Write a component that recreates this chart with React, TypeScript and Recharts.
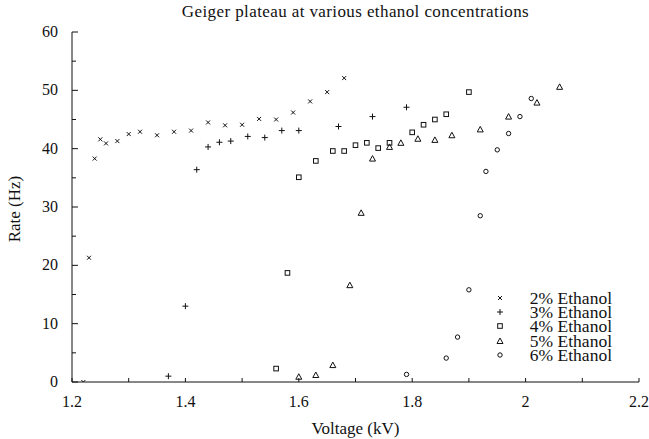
import { ScatterChart, Scatter, XAxis, YAxis, Legend, Label } from 'recharts'

const volt2 = [1.22, 1.23, 1.24, 1.25, 1.26, 1.28, 1.3, 1.32, 1.35, 1.38, 1.41, 1.44, 1.47, 1.5, 1.53, 1.56, 1.59, 1.62, 1.65, 1.68]
const rate2 = [0, 21.3, 38.3, 41.6, 40.9, 41.3, 42.5, 42.9, 42.3, 42.9, 43.1, 44.5, 44.0, 44.1, 45.1, 45.0, 46.2, 48.1, 49.7, 52.1]

const volt3 = [1.37, 1.4, 1.42, 1.44, 1.46, 1.48, 1.51, 1.54, 1.57, 1.6, 1.67, 1.73, 1.79]
const rate3 = [1.0, 13.0, 36.4, 40.3, 41.1, 41.3, 42.1, 41.9, 43.1, 43.1, 43.8, 45.5, 47.1]

const volt4 = [1.56, 1.58, 1.6, 1.63, 1.66, 1.68, 1.7, 1.72, 1.74, 1.76, 1.8, 1.82, 1.84, 1.86, 1.9]
const rate4 = [2.3, 18.7, 35.1, 37.9, 39.6, 39.6, 40.6, 41.0, 40.1, 41.0, 42.8, 44.1, 45.0, 45.9, 49.7]

const volt5 = [1.6, 1.63, 1.66, 1.69, 1.71, 1.73, 1.76, 1.78, 1.81, 1.84, 1.87, 1.92, 1.97, 2.02, 2.06]
const rate5 = [0.9, 1.2, 2.9, 16.6, 29.0, 38.3, 40.3, 41.0, 41.7, 41.5, 42.3, 43.3, 45.5, 47.9, 50.6]

const volt6 = [1.79, 1.86, 1.88, 1.9, 1.92, 1.93, 1.95, 1.97, 1.99, 2.01]
const rate6 = [1.3, 4.1, 7.7, 15.8, 28.5, 36.1, 39.8, 42.6, 45.5, 48.6]

const seriesNames = ['2% Ethanol', '3% Ethanol', '4% Ethanol', '5% Ethanol', '6% Ethanol']

const xTicks = [1.2, 1.3, 1.4, 1.5, 1.6, 1.7, 1.8, 1.9, 2.0, 2.1, 2.2]
const xLabels: Record<string, string> = { '1.2': '1.2', '1.4': '1.4', '1.6': '1.6', '1.8': '1.8', '2': '2', '2.2': '2.2' }
const yTicks = [0, 5, 10, 15, 20, 25, 30, 35, 40, 45, 50, 55, 60]
const yLabels: Record<string, string> = { '0': '0', '10': '10', '20': '20', '30': '30', '40': '40', '50': '50', '60': '60' }

const font = "'Liberation Serif', serif"
const ink = '#111'

const toPoints = (xs: number[], ys: number[]) => xs.map((v, i) => ({ v, r: ys[i] }))

type Mark = 'x' | 'plus' | 'square' | 'triangle' | 'circle'
const marks: Mark[] = ['x', 'plus', 'square', 'triangle', 'circle']

function Marker({ kind, cx, cy }: { kind: Mark; cx: number; cy: number }) {
  const p = { stroke: ink, strokeWidth: 1, fill: 'none' }
  if (kind === 'x')
    return (
      <g {...p}>
        <line x1={cx - 2} y1={cy - 2} x2={cx + 2} y2={cy + 2} />
        <line x1={cx - 2} y1={cy + 2} x2={cx + 2} y2={cy - 2} />
      </g>
    )
  if (kind === 'plus')
    return (
      <g {...p}>
        <line x1={cx - 3} y1={cy} x2={cx + 3} y2={cy} />
        <line x1={cx} y1={cy - 3} x2={cx} y2={cy + 3} />
      </g>
    )
  if (kind === 'square') return <rect x={cx - 2.3} y={cy - 2.3} width={4.6} height={4.6} {...p} />
  if (kind === 'triangle')
    return <polygon points={`${cx},${cy - 3} ${cx - 3},${cy + 2.5} ${cx + 3},${cy + 2.5}`} {...p} />
  return <circle cx={cx} cy={cy} r={2.2} {...p} />
}

const shapeFor = (kind: Mark) => (props: any) => <Marker kind={kind} cx={props.cx} cy={props.cy} />

function BottomTick({ x, y, payload }: any) {
  const label = xLabels[String(payload.value)]
  return (
    <g>
      <line x1={x} y1={y} x2={x} y2={y - 4} stroke={ink} />
      {label && (
        <text x={x} y={y + 25} textAnchor="middle" fontSize={16} style={{ fontFamily: font }} fill={ink}>
          {label}
        </text>
      )}
    </g>
  )
}

function TopTick({ x, y }: any) {
  return <line x1={x} y1={y} x2={x} y2={y + 4} stroke={ink} />
}

function LeftTick({ x, y, payload }: any) {
  const label = yLabels[String(payload.value)]
  const len = label ? 6 : 4
  return (
    <g>
      <line x1={x} y1={y} x2={x + len} y2={y} stroke={ink} />
      {label && (
        <text x={x - 14} y={y + 5} textAnchor="end" fontSize={16} style={{ fontFamily: font }} fill={ink}>
          {label}
        </text>
      )}
    </g>
  )
}

function RightTick({ x, y, payload }: any) {
  const len = yLabels[String(payload.value)] ? 6 : 4
  return <line x1={x} y1={y} x2={x - len} y2={y} stroke={ink} />
}

function LegendBox() {
  return (
    <div style={{ fontFamily: font, fontSize: 17.5, color: ink }}>
      {seriesNames.map((name, i) => (
        <div key={name} style={{ display: 'flex', alignItems: 'center', height: 14.2, lineHeight: '14.2px' }}>
          <svg width={20} height={14} style={{ flex: 'none' }}>
            <Marker kind={marks[i]} cx={10} cy={7} />
          </svg>
          <span style={{ flex: 1, textAlign: 'right', whiteSpace: 'nowrap' }}>{name}</span>
        </div>
      ))}
    </div>
  )
}

export default function App() {
  const series = [
    toPoints(volt2, rate2),
    toPoints(volt3, rate3),
    toPoints(volt4, rate4),
    toPoints(volt5, rate5),
    toPoints(volt6, rate6),
  ]

  return (
    <div style={{ position: 'fixed', left: 0, top: 0, width: 649, height: 439, background: '#fff', fontFamily: font }}>
      <div
        style={{
          position: 'absolute',
          top: 0,
          left: 72,
          width: 567,
          textAlign: 'center',
          fontFamily: font,
          fontSize: 17,
          letterSpacing: 0.4,
          color: ink,
          lineHeight: '24px',
        }}
      >
        Geiger plateau at various ethanol concentrations
      </div>
      <ScatterChart width={649} height={439} margin={{ top: 32, right: 10, bottom: 17, left: 12 }}>
        <XAxis
          type="number"
          dataKey="v"
          domain={[1.2, 2.2]}
          ticks={xTicks}
          interval={0}
          allowDataOverflow
          height={40}
          tickSize={0}
          tickMargin={0}
          tickLine={false}
          tick={<BottomTick />}
          axisLine={{ stroke: ink }}
        >
          <Label value="Voltage (kV)" position="insideBottom" offset={-12} fontSize={17} style={{ fontFamily: font }} fill={ink} />
        </XAxis>
        <XAxis
          xAxisId="top"
          orientation="top"
          type="number"
          dataKey="v"
          domain={[1.2, 2.2]}
          ticks={xTicks}
          interval={0}
          allowDataOverflow
          height={0}
          tickSize={0}
          tickMargin={0}
          tickLine={false}
          tick={<TopTick />}
          axisLine={{ stroke: ink }}
        />
        <YAxis
          type="number"
          dataKey="r"
          domain={[0, 60]}
          ticks={yTicks}
          interval={0}
          allowDataOverflow
          width={60}
          tickSize={0}
          tickMargin={0}
          tickLine={false}
          tick={<LeftTick />}
          axisLine={{ stroke: ink }}
        >
          <Label
            value="Rate (Hz)"
            angle={-90}
            position="insideLeft"
            offset={2}
            dy={2}
            fontSize={17}
            fill={ink}
            style={{ textAnchor: 'middle', fontFamily: font }}
          />
        </YAxis>
        <YAxis
          yAxisId="right"
          orientation="right"
          type="number"
          dataKey="r"
          domain={[0, 60]}
          ticks={yTicks}
          interval={0}
          allowDataOverflow
          width={0}
          tickSize={0}
          tickMargin={0}
          tickLine={false}
          tick={<RightTick />}
          axisLine={{ stroke: ink }}
        />
        <Legend
          layout="horizontal"
          verticalAlign="middle"
          align="center"
          content={<LegendBox />}
          wrapperStyle={{ left: 490, top: 291, width: 122, height: 72 }}
        />
        {series.map((data, i) => (
          <Scatter
            key={seriesNames[i]}
            name={seriesNames[i]}
            data={data}
            shape={shapeFor(marks[i])}
            isAnimationActive={false}
          />
        ))}
      </ScatterChart>
    </div>
  )
}
